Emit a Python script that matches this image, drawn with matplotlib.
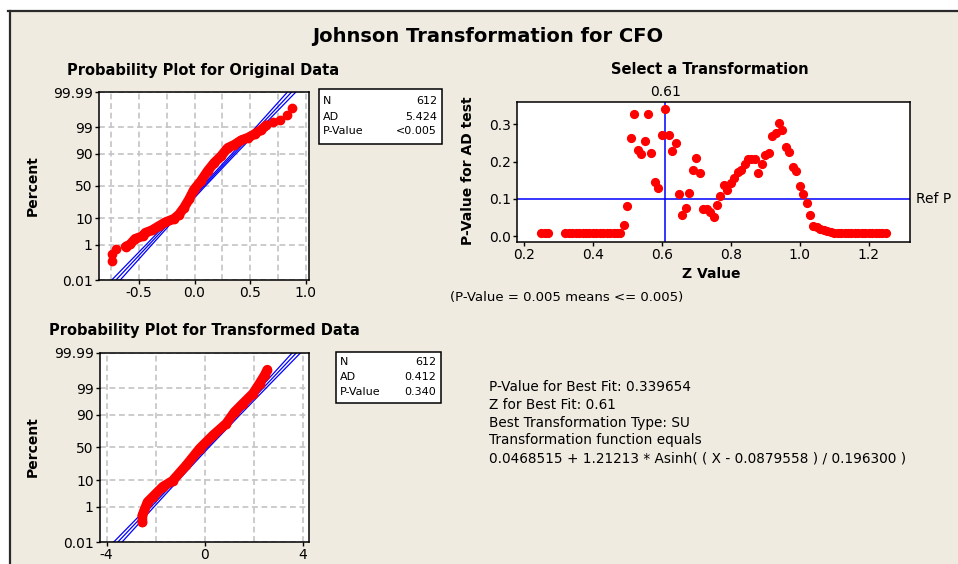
"""Johnson transformation summary for CFO (Minitab-style four-panel layout)."""
from statistics import NormalDist

import numpy as np
import matplotlib
matplotlib.use("Agg")
import matplotlib.pyplot as plt
from matplotlib.lines import Line2D
from matplotlib.patches import Rectangle
from matplotlib.ticker import NullLocator

# ---- data ------------------------------------------------------------------
pct_ticks = [0.01, 1, 10, 50, 90, 99, 99.99]
pct_labels = ["0.01", "1", "10", "50", "90", "99", "99.99"]
fit_pct = [0.01, 1, 10, 50, 90, 99, 99.99]

# original data: sorted values vs plotting position (percent)
orig_x = [-0.740, -0.740, -0.707, -0.620, -0.580, -0.535, -0.465, -0.444,
          -0.384, -0.323, -0.262, -0.186, -0.141, -0.095, -0.050, -0.005,
          0.056, 0.117, 0.177, 0.238, 0.298, 0.359, 0.420, 0.480, 0.540,
          0.600, 0.647, 0.707, 0.768, 0.835, 0.874]
orig_pct = [0.15, 0.37, 0.62, 0.82, 1.04, 1.83, 2.39, 3.2, 4.0, 5.6, 7.6,
            9.7, 12.9, 19.5, 29.8, 44.4, 57.5, 72.2, 82.1, 88.1, 93.4, 94.9,
            96.5, 97.2, 98.0, 98.7, 99.18, 99.41, 99.57, 99.74, 99.90]
orig_fit = [-0.707, -0.411, -0.189, 0.0835, 0.356, 0.578, 0.874]
orig_lo = [-0.745, -0.437, -0.207, 0.0695, 0.338, 0.552, 0.836]
orig_hi = [-0.669, -0.385, -0.171, 0.0975, 0.374, 0.604, 0.912]
orig_stats = [("N", "612"), ("AD", "5.424"), ("P-Value", "<0.005")]

# transformed data
trans_x = [-2.54, -2.54, -2.46, -2.33, -2.12, -1.71, -1.31, -0.75, -0.20,
           0.34, 0.88, 1.22, 1.56, 1.97, 2.24, 2.45, 2.56]
trans_pct = [0.16, 0.38, 0.68, 1.6, 2.6, 6.1, 9.5, 24.2, 48.4, 68.4, 82.6,
             91.9, 95.8, 98.3, 99.41, 99.78, 99.89]
trans_fit = [-3.539, -2.176, -1.154, 0.10, 1.354, 2.376, 3.739]
trans_lo = [-3.709, -2.296, -1.244, 0.03, 1.264, 2.256, 3.569]
trans_hi = [-3.369, -2.056, -1.064, 0.17, 1.444, 2.496, 3.909]
trans_stats = [("N", "612"), ("AD", "0.412"), ("P-Value", "0.340")]

# select a transformation: z value vs AD p-value
z_vals = [0.25, 0.26, 0.27,
          0.32, 0.33, 0.34, 0.35, 0.36, 0.37, 0.38, 0.39, 0.40, 0.41, 0.42,
          0.43, 0.44, 0.45, 0.46, 0.47, 0.48,
          0.49, 0.50, 0.51, 0.52, 0.53, 0.54, 0.55, 0.56, 0.57, 0.58, 0.59,
          0.60, 0.61, 0.62, 0.63, 0.64, 0.65, 0.66, 0.67, 0.68, 0.69, 0.70,
          0.71, 0.72, 0.73, 0.74, 0.75, 0.76, 0.77, 0.78, 0.79, 0.80, 0.81,
          0.82, 0.83, 0.84, 0.85, 0.86, 0.87, 0.88, 0.89, 0.90, 0.91, 0.92,
          0.93, 0.94, 0.95, 0.96, 0.97, 0.98, 0.99, 1.00, 1.01, 1.02, 1.03,
          1.04, 1.05, 1.06, 1.07, 1.08, 1.09,
          1.10, 1.11, 1.12, 1.13, 1.14, 1.15, 1.16, 1.17, 1.18, 1.19, 1.20,
          1.21, 1.22, 1.23, 1.24, 1.25]
p_vals = [0.01, 0.01, 0.01,
          0.01, 0.01, 0.01, 0.01, 0.01, 0.01, 0.01, 0.01, 0.01, 0.01, 0.01,
          0.01, 0.01, 0.01, 0.01, 0.01, 0.01,
          0.031, 0.080, 0.264, 0.326, 0.232, 0.221, 0.256, 0.326, 0.224,
          0.146, 0.129, 0.272, 0.340, 0.272, 0.229, 0.249, 0.113, 0.058,
          0.077, 0.116, 0.178, 0.210, 0.170, 0.074, 0.074, 0.064, 0.053,
          0.085, 0.108, 0.136, 0.124, 0.142, 0.155, 0.171, 0.177, 0.193,
          0.208, 0.207, 0.208, 0.170, 0.193, 0.217, 0.224, 0.268, 0.277,
          0.302, 0.284, 0.238, 0.226, 0.186, 0.176, 0.135, 0.113, 0.089,
          0.058, 0.029, 0.024, 0.020, 0.018, 0.015, 0.012,
          0.01, 0.01, 0.01, 0.01, 0.01, 0.01, 0.01, 0.01, 0.01, 0.01, 0.01,
          0.01, 0.01, 0.01, 0.01, 0.01]
best_z = 0.61
ref_p = 0.1

summary_lines = [
    "P-Value for Best Fit: 0.339654",
    "Z for Best Fit: 0.61",
    "Best Transformation Type: SU",
    "Transformation function equals",
    "0.0468515 + 1.21213 * Asinh( ( X - 0.0879558 ) / 0.196300 )",
]

# ---- styling ----------------------------------------------------------------
W, H = 958, 564
BG = "#EFEBE1"
RED = "#FF0000"
BLUE = "#0000FF"
GRID = dict(color="#C4C4C4", lw=1.2, ls=(0, (3.5, 2.2)))

_nd = NormalDist()
_ppf = np.vectorize(_nd.inv_cdf, otypes=[float])
_cdf = np.vectorize(_nd.cdf, otypes=[float])


def pct_to_z(p):
    p = np.clip(np.asarray(p, dtype=float), 1e-7, 100 - 1e-7)
    return _ppf(p / 100.0)


def z_to_pct(z):
    return _cdf(np.asarray(z, dtype=float)) * 100.0


fig = plt.figure(figsize=(W / 100, H / 100), dpi=100)
fig.patch.set_facecolor(BG)


def fx(x):
    return x / W


def fy(y):
    return 1 - y / H


def axes_px(left, top, right, bottom):
    return fig.add_axes([fx(left), fy(bottom), (right - left) / W, (bottom - top) / H])


def style_axes(ax):
    ax.set_facecolor("white")
    for sp in ax.spines.values():
        sp.set_linewidth(1.1)
        sp.set_color("black")
    ax.tick_params(direction="out", length=3, width=1, pad=1.5, labelsize=10,
                   top=False, right=False)


def prob_axes(ax, xlim, xticks, xlabels, xgrid):
    style_axes(ax)
    ax.set_yscale("function", functions=(pct_to_z, z_to_pct))
    ax.set_ylim(0.01, 99.99)
    ax.set_yticks(pct_ticks, pct_labels)
    ax.yaxis.set_minor_locator(NullLocator())
    ax.set_xlim(*xlim)
    ax.set_xticks(xticks, xlabels)
    ax.set_xticks(xgrid, minor=True)
    ax.tick_params(which="minor", length=0)
    ax.grid(True, which="both", axis="x", **GRID)
    ax.grid(True, which="major", axis="y", **GRID)
    ax.set_axisbelow(True)


def stats_box(left, top, right, bottom, rows, ys):
    fig.add_artist(Rectangle((fx(left), fy(bottom)), (right - left) / W,
                             (bottom - top) / H, transform=fig.transFigure,
                             facecolor="white", edgecolor="black", lw=1.1))
    for (k, v), y in zip(rows, ys):
        fig.text(fx(left + 4), fy(y), k, ha="left", va="center", fontsize=8)
        fig.text(fx(right - 5), fy(y), v, ha="right", va="center", fontsize=8)


# white margin and dark frame lines
fig.add_artist(Rectangle((0, fy(10)), 1, 10 / H, transform=fig.transFigure,
                         facecolor="white", edgecolor="none"))
fig.add_artist(Rectangle((0, 0), 9 / W, 1, transform=fig.transFigure,
                         facecolor="white", edgecolor="none"))
fig.add_artist(Line2D([fx(8), 1], [fy(11), fy(11)], transform=fig.transFigure,
                      color="#2A2A2A", lw=1.6))
fig.add_artist(Line2D([fx(10), fx(10)], [0, fy(11)], transform=fig.transFigure,
                      color="#2A2A2A", lw=1.6))

fig.text(fx(488), fy(36), "Johnson Transformation for CFO", ha="center",
         va="center", fontsize=14, fontweight="bold")

# ---- probability plot: original ----------------------------------------------
ax1 = axes_px(99, 92, 309, 280)
prob_axes(ax1, (-0.86, 1.03), [-0.5, 0.0, 0.5, 1.0], ["-0.5", "0.0", "0.5", "1.0"],
          [-0.75, -0.25, 0.25, 0.75])
for xs in (orig_lo, orig_fit, orig_hi):
    ax1.plot(xs, fit_pct, color=BLUE, lw=0.9, zorder=2)
ax1.plot(orig_x[3:27], orig_pct[3:27], color=RED, lw=7, solid_capstyle="round",
         solid_joinstyle="round", zorder=3)
ax1.plot(orig_x, orig_pct, "o", color=RED, ms=6, mec=RED, zorder=3)
fig.text(fx(203), fy(70), "Probability Plot for Original Data", ha="center",
         va="center", fontsize=10.5, fontweight="bold")
fig.text(fx(33), fy(186), "Percent", rotation=90, ha="center", va="center",
         fontsize=10, fontweight="bold")
stats_box(319, 89, 442, 144, orig_stats, [101, 116.5, 131.5])

# ---- probability plot: transformed -------------------------------------------
ax2 = axes_px(100, 353, 309, 542)
prob_axes(ax2, (-4.27, 4.26), [-4, 0, 4], ["-4", "0", "4"], [-2, 2])
for xs in (trans_lo, trans_fit, trans_hi):
    ax2.plot(xs, fit_pct, color=BLUE, lw=0.9, zorder=2)
ax2.plot(trans_x, trans_pct, "o-", color=RED, lw=7, ms=6, mec=RED,
         solid_capstyle="round", solid_joinstyle="round", zorder=3)
fig.text(fx(204), fy(330), "Probability Plot for Transformed Data", ha="center",
         va="center", fontsize=10.5, fontweight="bold")
fig.text(fx(33), fy(447), "Percent", rotation=90, ha="center", va="center",
         fontsize=10, fontweight="bold")
stats_box(336, 352, 441, 403, trans_stats, [362, 377, 392])

# ---- select a transformation -------------------------------------------------
ax3 = axes_px(517, 102, 910, 242)
style_axes(ax3)
ax3.set_xlim(0.18, 1.32)
ax3.set_ylim(-0.015, 0.359)
ax3.set_xticks([0.2, 0.4, 0.6, 0.8, 1.0, 1.2], ["0.2", "0.4", "0.6", "0.8", "1.0", "1.2"])
ax3.set_yticks([0.0, 0.1, 0.2, 0.3], ["0.0", "0.1", "0.2", "0.3"])
ax3.axvline(best_z, color=BLUE, lw=1.1, zorder=1)
ax3.axhline(ref_p, color=BLUE, lw=1.1, zorder=1)
ax3.plot(z_vals, p_vals, "o", color=RED, ms=5.6, mec=RED, zorder=3)
ax3.annotate(f"{best_z:.2f}", xy=(best_z, 1), xycoords=("data", "axes fraction"),
             xytext=(0, 2.5), textcoords="offset points", ha="center", va="bottom",
             fontsize=10)
ax3.annotate("Ref P", xy=(1, ref_p), xycoords=("axes fraction", "data"),
             xytext=(4.5, 0), textcoords="offset points", ha="left", va="center",
             fontsize=10)
fig.text(fx(710), fy(70), "Select a Transformation", ha="center", va="center",
         fontsize=10.5, fontweight="bold")
fig.text(fx(468), fy(171), "P-Value for AD test", rotation=90, ha="center",
         va="center", fontsize=10, fontweight="bold")
fig.text(fx(711), fy(274), "Z Value", ha="center", va="center", fontsize=10,
         fontweight="bold")
fig.text(fx(450), fy(297), "(P-Value = 0.005 means <= 0.005)", ha="left",
         va="center", fontsize=9.5)

# ---- summary text ------------------------------------------------------------
for i, line in enumerate(summary_lines):
    fig.text(fx(489), fy(387 + i * 17.8), line, ha="left", va="center", fontsize=9.8)

fig.savefig("out.png", dpi=100, facecolor=fig.get_facecolor())
